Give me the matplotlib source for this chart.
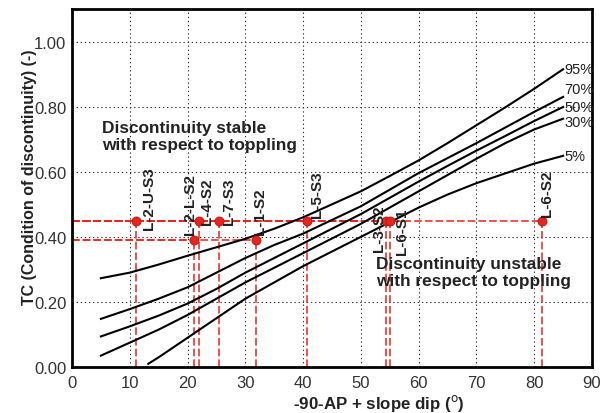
import matplotlib
matplotlib.use('Agg')
import matplotlib.pyplot as plt

plt.rcParams['font.family'] = ['Liberation Sans', 'DejaVu Sans']

# probability curves
x_curve = [5, 10, 15, 20, 25, 30, 35, 40, 45, 50, 55, 60, 65, 70, 75, 80, 85]
tc_95 = [0.273, 0.29, 0.315, 0.342, 0.368, 0.394, 0.425, 0.46, 0.5, 0.54, 0.587,
         0.635, 0.688, 0.743, 0.798, 0.855, 0.915]
tc_70 = [0.148, 0.178, 0.21, 0.245, 0.29, 0.335, 0.375, 0.41, 0.452, 0.494, 0.545,
         0.596, 0.642, 0.688, 0.736, 0.784, 0.83]
tc_50 = [0.094, 0.125, 0.158, 0.195, 0.24, 0.29, 0.335, 0.38, 0.425, 0.47, 0.52,
         0.57, 0.618, 0.665, 0.71, 0.756, 0.799]
tc_30 = [0.035, 0.075, 0.115, 0.16, 0.21, 0.26, 0.305, 0.35, 0.395, 0.44, 0.49,
         0.54, 0.59, 0.64, 0.688, 0.73, 0.763]
x_5 = [13.2, 15, 20, 25, 30, 35, 40, 45, 50, 55, 60, 65, 70, 75, 80, 85]
tc_5 = [0.01, 0.03, 0.09, 0.15, 0.21, 0.26, 0.31, 0.355, 0.4, 0.445, 0.49, 0.53,
        0.565, 0.595, 0.625, 0.649]
curve_names = ['95%', '70%', '50%', '30%', '5%']

# discontinuity samples
sample_names = ['L-2-U-S3', 'L-2-L-S2', 'L-4-S2', 'L-7-S3', 'L-1-S2', 'L-5-S3',
                'L-3-S2', 'L-6-S1', 'L-6-S2']
sample_x = [11.1, 21.2, 22.0, 25.4, 31.8, 40.6, 54.3, 55.1, 81.3]
sample_tc = [0.45, 0.39, 0.45, 0.45, 0.39, 0.45, 0.45, 0.45, 0.45]

# where each rotated label sits (offset in x, bottom in y)
label_dx = [1.0, -2.0, 0.15, 0.55, -0.5, 0.6, -2.4, 0.8, -0.3]
label_y = [0.425, 0.409, 0.44, 0.44, 0.41, 0.46, 0.357, 0.348, 0.465]

fig = plt.figure(figsize=(6.02, 4.14), dpi=100)
ax = fig.add_axes([0.1196, 0.111, 0.8638, 0.8648])

red = '#e8241c'
for x, y in zip(sample_x, sample_tc):
    ax.plot([0, x], [y, y], color=red, lw=1.1, dashes=(5, 2), zorder=2)
    ax.plot([x, x], [0, y], color=red, lw=1.1, dashes=(5, 2), zorder=2)

curves = [(x_curve, tc_95), (x_curve, tc_70), (x_curve, tc_50), (x_curve, tc_30), (x_5, tc_5)]
label_shift = [0.0, 0.025, 0.0, -0.01, 0.0]
for (xs, ys), name, sh in zip(curves, curve_names, label_shift):
    ax.plot(xs, ys, color='black', lw=1.5, zorder=3)
    ax.text(xs[-1] + 0.2, ys[-1] + sh, name, fontsize=10.5, color='#222222',
            ha='left', va='center')

ax.plot(sample_x, sample_tc, 'o', color=red, mec='#b01810', mew=0.6, ms=6.5, zorder=4)
for name, x, dx, ly in zip(sample_names, sample_x, label_dx, label_y):
    ax.text(x + dx, ly, name, rotation=90, ha='left', va='bottom',
            fontsize=11, fontweight='bold', color='#222222', zorder=5)

ax.text(5.2, 0.76, 'Discontinuity stable\nwith respect to toppling', fontsize=12.4,
        fontweight='bold', color='#222222', ha='left', va='top')
ax.text(52.6, 0.342, 'Discontinuity unstable\nwith respect to toppling', fontsize=12.4,
        fontweight='bold', color='#222222', ha='left', va='top')

ax.set_xlim(0, 90)
ax.set_ylim(0, 1.1)
ax.set_xticks(range(0, 91, 10))
ax.set_yticks([0, 0.2, 0.4, 0.6, 0.8, 1.0])
ax.set_yticklabels(['0.00', '0.20', '0.40', '0.60', '0.80', '1.00'])
ax.tick_params(length=0, labelsize=12, labelcolor='#333333')
ax.tick_params(axis='x', pad=6)
ax.tick_params(axis='y', pad=4)
ax.grid(True, color='#333333', lw=0.8, linestyle=(0, (1.2, 2.5)))
ax.set_axisbelow(True)
for s in ax.spines.values():
    s.set_linewidth(2)

ax.set_xlabel(r'-90-AP + slope dip ($^{\rm o}$)', fontsize=12.2, fontweight='bold',
              color='#222222')
ax.xaxis.set_label_coords(0.59, -0.07)
ax.set_ylabel('TC (Condition of discontinuity) (-)', fontsize=11.5, fontweight='bold',
              color='#222222')
ax.yaxis.set_label_coords(-0.067, 0.533)

fig.savefig('out.png', dpi=100)
